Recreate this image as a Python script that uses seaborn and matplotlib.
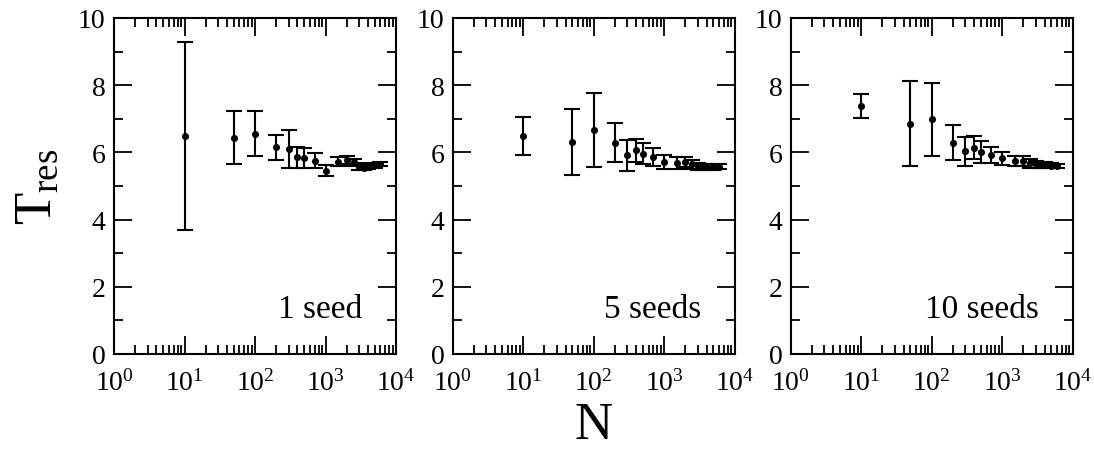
import numpy as np
import pandas as pd
import matplotlib
matplotlib.use("Agg")
import matplotlib.pyplot as plt
import seaborn as sns
from matplotlib.ticker import LogLocator, FixedLocator, NullFormatter

# ---- data ----
N = [10, 50, 100, 200, 300, 400, 500, 700, 1000, 1500, 2000, 2500, 3000, 3500, 4000, 5000, 6000]

mean_1seed = [6.48, 6.44, 6.55, 6.15, 6.10, 5.85, 5.83, 5.75, 5.46, 5.72, 5.77, 5.70, 5.58, 5.55, 5.57, 5.62, 5.65]
err_1seed = [2.80, 0.79, 0.67, 0.37, 0.57, 0.30, 0.30, 0.22, 0.17, 0.13, 0.13, 0.10, 0.09, 0.08, 0.07, 0.07, 0.06]

mean_5seeds = [6.49, 6.31, 6.66, 6.29, 5.91, 6.06, 5.96, 5.87, 5.72, 5.69, 5.71, 5.65, 5.59, 5.57, 5.57, 5.57, 5.57]
err_5seeds = [0.57, 0.98, 1.10, 0.59, 0.46, 0.35, 0.32, 0.26, 0.20, 0.17, 0.15, 0.13, 0.10, 0.09, 0.08, 0.08, 0.07]

mean_10seeds = [7.37, 6.86, 6.98, 6.29, 6.04, 6.14, 6.01, 5.91, 5.82, 5.74, 5.74, 5.67, 5.65, 5.63, 5.62, 5.60, 5.59]
err_10seeds = [0.36, 1.26, 1.10, 0.53, 0.43, 0.35, 0.32, 0.24, 0.20, 0.15, 0.14, 0.12, 0.10, 0.09, 0.08, 0.07, 0.06]

panel_labels = ["1 seed", "5 seeds", "10 seeds"]
y_ticks = [0, 2, 4, 6, 8, 10]
y_minor = [1, 3, 5, 7, 9]

sns.set_theme(style="ticks")
plt.rcParams["font.family"] = ["Liberation Serif", "DejaVu Serif"]
plt.rcParams["mathtext.fontset"] = "custom"
plt.rcParams["mathtext.rm"] = "Liberation Serif"
plt.rcParams["mathtext.it"] = "Liberation Serif:italic"
plt.rcParams["text.color"] = "black"
plt.rcParams["axes.labelcolor"] = "black"
plt.rcParams["xtick.color"] = "black"
plt.rcParams["ytick.color"] = "black"

fig = plt.figure(figsize=(10.94, 4.6), dpi=100)
lefts = [114 / 1094, 452.7 / 1094, 790.7 / 1094]
bottom = 1 - 355 / 460
width = 282 / 1094
height = 336 / 460

series = [(mean_1seed, err_1seed), (mean_5seeds, err_5seeds), (mean_10seeds, err_10seeds)]
axes = []
for i, (m, e) in enumerate(series):
    ax = fig.add_axes([lefts[i], bottom, width, height])
    df = pd.DataFrame({"N": N, "T": m, "err": e})
    ax.errorbar(df["N"], df["T"], yerr=df["err"], fmt="none", ecolor="black",
                elinewidth=1.5, capsize=5.5, capthick=1.5, zorder=2)
    sns.scatterplot(data=df, x="N", y="T", ax=ax, color="black", s=26,
                    edgecolor="black", linewidth=0, zorder=3, legend=False)
    ax.set_xscale("log")
    ax.set_xlim(1, 1e4)
    ax.set_ylim(0, 10)
    ax.xaxis.set_major_locator(LogLocator(base=10, numticks=10))
    ax.xaxis.set_minor_locator(LogLocator(base=10, subs=np.arange(2, 10), numticks=20))
    ax.xaxis.set_minor_formatter(NullFormatter())
    ax.yaxis.set_major_locator(FixedLocator(y_ticks))
    ax.yaxis.set_minor_locator(FixedLocator(y_minor))
    ax.tick_params(which="both", direction="in", top=True, right=True,
                   width=1.3, colors="black", labelsize=20)
    ax.tick_params(which="major", length=13)
    ax.tick_params(which="minor", length=6.5)
    ax.tick_params(axis="x", pad=11)
    ax.tick_params(axis="y", pad=6)
    for sp in ax.spines.values():
        sp.set_linewidth(1.5)
        sp.set_color("black")
        sp.set_visible(True)
    ax.set_xlabel("")
    ax.set_ylabel("")
    ax.text(0.88, 0.11, panel_labels[i], transform=ax.transAxes,
            ha="right", va="baseline", fontsize=24, color="black")
    axes.append(ax)

axes[0].set_ylabel(r"$\mathregular{T_{res}}$", fontsize=38, labelpad=12)
axes[1].set_xlabel("N", fontsize=38, labelpad=4)

fig.savefig("out.png", dpi=100, facecolor="white")
